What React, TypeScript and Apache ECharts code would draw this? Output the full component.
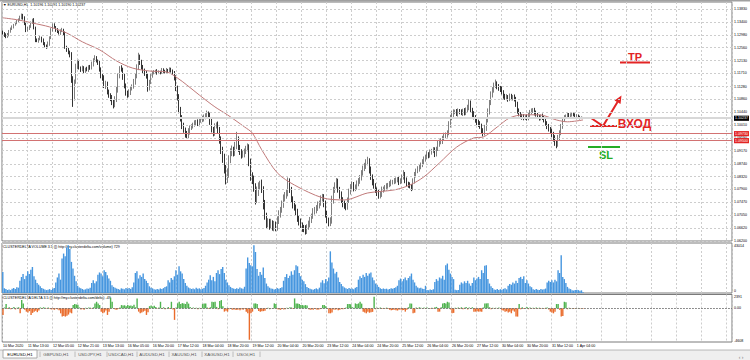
import React, { useEffect, useRef } from 'react';
import * as echarts from 'echarts';

const FONT = 'Liberation Sans';
const TOTAL_SLOTS = 468;

const xLabels = ['10 Mar 2020', '11 Mar 13:00', '12 Mar 05:00', '12 Mar 21:00', '13 Mar 13:00', '16 Mar 05:00', '16 Mar 20:00', '17 Mar 12:00', '18 Mar 04:00', '18 Mar 20:00', '19 Mar 12:00', '20 Mar 04:00', '20 Mar 20:00', '23 Mar 12:00', '24 Mar 04:00', '24 Mar 20:00', '25 Mar 12:00', '26 Mar 04:00', '26 Mar 20:00', '27 Mar 12:00', '30 Mar 04:00', '30 Mar 20:00', '31 Mar 12:00', '1 Apr 04:00'];

const priceGrid = [1.1383, 1.134, 1.1298, 1.1256, 1.1213, 1.1171, 1.1128, 1.1086, 1.1044, 1.1001, 1.0959, 1.0917, 1.0874, 1.0832, 1.079, 1.0747, 1.0705, 1.0662, 1.062];
const levelPrices = [1.0973, 1.095];
const bidPrice = 1.10237;

// hourly closes, in 1/10000 of a price unit
const firstOpen = 11308;
const closes = [
  11304, 11298, 11291, 11298, 11311, 11318, 11324, 11331, 11337, 11341,
  11347, 11354, 11364, 11354, 11334, 11314, 11318, 11327, 11337, 11347,
  11321, 11281, 11278, 11285, 11288, 11281, 11268, 11262, 11258, 11268,
  11288, 11314, 11331, 11324, 11314, 11308, 11304, 11311, 11314, 11304,
  11258, 11249, 11239, 11232, 11150, 11091, 11143, 11193, 11209, 11189,
  11183, 11189, 11179, 11186, 11183, 11193, 11189, 11202, 11216, 11222,
  11212, 11206, 11183, 11163, 11156, 11130, 11137, 11110, 11100, 11091,
  11077, 11068, 11084, 11117, 11163, 11189, 11183, 11160, 11130, 11107,
  11100, 11110, 11123, 11127, 11143, 11163, 11189, 11225, 11209, 11193,
  11179, 11170, 11160, 11123, 11143, 11163, 11173, 11176, 11179, 11173,
  11176, 11173, 11183, 11179, 11176, 11183, 11179, 11186, 11179, 11173,
  11156, 11123, 11091, 11051, 11025, 10998, 10985, 10972, 10966, 10979,
  10992, 10998, 11002, 11008, 11012, 11005, 11015, 11018, 11022, 11028,
  11031, 11038, 11035, 11012, 10985, 10975, 10998, 11002, 10985, 10952,
  10920, 10893, 10854, 10821, 10841, 10887, 10913, 10920, 10910, 10933,
  10952, 10926, 10913, 10903, 10906, 10916, 10923, 10929, 10880, 10834,
  10821, 10794, 10755, 10781, 10801, 10808, 10788, 10739, 10702, 10676,
  10683, 10670, 10679, 10666, 10673, 10663, 10686, 10709, 10722, 10739,
  10762, 10768, 10778, 10814, 10788, 10758, 10739, 10729, 10716, 10696,
  10683, 10673, 10663, 10660, 10653, 10666, 10676, 10689, 10702, 10716,
  10722, 10729, 10739, 10745, 10758, 10765, 10742, 10709, 10689, 10679,
  10686, 10755, 10788, 10804, 10814, 10788, 10771, 10755, 10742, 10735,
  10732, 10755, 10781, 10798, 10804, 10794, 10798, 10808, 10818, 10827,
  10844, 10857, 10867, 10877, 10883, 10854, 10831, 10814, 10801, 10788,
  10778, 10768, 10775, 10788, 10791, 10794, 10801, 10804, 10808, 10814,
  10814, 10818, 10821, 10824, 10814, 10818, 10831, 10841, 10821, 10808,
  10804, 10801, 10794, 10818, 10837, 10850, 10857, 10864, 10870, 10880,
  10890, 10897, 10906, 10900, 10913, 10916, 10920, 10906, 10923, 10939,
  10946, 10949, 10959, 10966, 10969, 10975, 11002, 11025, 11038, 11045,
  11045, 11038, 11048, 11045, 11041, 11048, 11041, 11051, 11058, 11074,
  11051, 11038, 11028, 11018, 11012, 11005, 10998, 10985, 10975, 10992,
  11018, 11045, 11074, 11100, 11117, 11130, 11137, 11127, 11123, 11120,
  11110, 11097, 11091, 11094, 11087, 11097, 11091, 11094, 11087, 11071,
  11048, 11038, 11031, 11028, 11025, 11028, 11025, 11035, 11045, 11048,
  11051, 11041, 11035, 11028, 11025, 11031, 11025, 11018, 11008, 10998,
  10989, 10982, 10972, 10959, 10943, 10939, 10959, 10975, 10998, 11018,
  11028, 11031, 11035, 11031, 11035, 11038, 11035, 11031, 11031, 11028, 11025, 11025, 11024,
];

// upper / lower wick lengths in 1/10000
const wickUp = [
  4, 3, 5, 6, 3, 4, 5, 3, 4, 6, 5, 7, 4, 3, 5, 4, 6, 3, 5, 4,
  6, 4, 5, 3, 7, 4, 5, 6, 4, 8, 5, 6, 4, 5, 3, 6, 4, 5, 7, 4,
  5, 4, 6, 7, 9, 12, 8, 10, 6, 7, 5, 8, 6, 4, 7, 5, 6, 8, 5, 9,
  6, 5, 7, 8, 6, 9, 10, 7, 8, 6, 9, 7, 12, 10, 8, 6, 9, 7, 10, 8,
  7, 9, 6, 8, 10, 9, 12, 14, 8, 7, 6, 8, 9, 10, 7, 6, 5, 6, 4, 6,
  5, 4, 6, 5, 4, 6, 3, 5, 4, 5, 6, 9, 8, 12, 10, 9, 11, 8, 10, 12,
  8, 6, 7, 9, 6, 8, 7, 9, 10, 8, 9, 11, 8, 7, 12, 10, 9, 8, 11, 10,
  12, 10, 14, 16, 18, 15, 12, 14, 10, 13, 27, 12, 10, 9, 11, 8, 10, 12, 9, 11,
  12, 14, 16, 18, 12, 10, 14, 12, 16, 11, 12, 10, 14, 9, 13, 11, 15, 12, 10, 14,
  11, 13, 10, 15, 12, 10, 9, 12, 11, 10, 9, 11, 8, 10, 12, 9, 11, 10, 8, 12,
  10, 9, 11, 8, 12, 10, 9, 11, 10, 8, 12, 14, 10, 9, 13, 11, 10, 12, 9, 11,
  10, 8, 11, 9, 12, 10, 8, 11, 9, 10, 9, 11, 10, 12, 14, 9, 11, 8, 10, 9,
  8, 10, 9, 11, 8, 10, 9, 7, 9, 8, 7, 9, 8, 6, 10, 8, 7, 12, 6, 8,
  7, 9, 6, 8, 10, 8, 9, 7, 8, 9, 8, 7, 9, 6, 8, 7, 9, 8, 7, 10,
  8, 9, 7, 10, 8, 9, 12, 10, 9, 8, 7, 9, 8, 6, 8, 7, 9, 8, 10, 12,
  8, 7, 9, 6, 8, 7, 9, 8, 6, 10, 9, 11, 10, 12, 9, 11, 14, 8, 9, 7,
  8, 6, 7, 9, 6, 8, 7, 6, 8, 7, 7, 8, 6, 7, 9, 6, 8, 7, 6, 8,
  6, 7, 8, 6, 7, 5, 8, 6, 7, 6, 7, 6, 8, 7, 9, 8, 10, 9, 7, 8,
  6, 5, 7, 6, 5, 6, 4, 5, 6, 5, 4, 5, 3,
];
const wickDn = [
  5, 7, 4, 3, 5, 6, 4, 5, 3, 4, 4, 3, 5, 6, 4, 7, 5, 4, 6, 3,
  5, 7, 4, 6, 5, 8, 4, 5, 6, 4, 6, 4, 5, 3, 6, 4, 5, 6, 4, 7,
  6, 7, 5, 8, 10, 30, 9, 6, 8, 5, 7, 5, 8, 6, 5, 7, 6, 5, 8, 6,
  5, 7, 6, 8, 9, 7, 10, 8, 9, 11, 10, 12, 8, 7, 9, 8, 6, 10, 8, 9,
  9, 7, 10, 8, 6, 9, 8, 7, 10, 9, 8, 7, 6, 12, 8, 7, 6, 5, 7, 6,
  4, 5, 3, 6, 5, 4, 6, 4, 5, 6, 8, 10, 9, 11, 12, 10, 9, 12, 10, 8,
  9, 7, 8, 6, 9, 7, 8, 6, 7, 9, 8, 7, 9, 10, 8, 11, 9, 8, 10, 12,
  14, 16, 12, 15, 10, 13, 11, 14, 12, 10, 11, 13, 10, 12, 9, 11, 10, 8, 14, 16,
  14, 12, 15, 10, 13, 12, 10, 15, 12, 14, 11, 13, 10, 12, 14, 11, 9, 10, 12, 9,
  10, 12, 9, 11, 10, 13, 12, 9, 11, 13, 12, 10, 13, 11, 12, 10, 9, 11, 10, 9,
  9, 11, 10, 12, 9, 8, 11, 12, 10, 11, 10, 9, 12, 10, 11, 9, 12, 10, 11, 9,
  11, 9, 10, 8, 9, 11, 10, 9, 8, 10, 8, 9, 7, 10, 8, 12, 10, 11, 9, 10,
  10, 9, 8, 10, 9, 7, 8, 9, 7, 8, 8, 7, 9, 8, 10, 7, 8, 9, 11, 8,
  9, 8, 10, 7, 9, 8, 7, 9, 8, 7, 8, 9, 7, 8, 6, 9, 7, 10, 8, 7,
  9, 8, 10, 7, 8, 9, 7, 9, 8, 10, 8, 7, 9, 8, 7, 10, 8, 7, 9, 8,
  9, 10, 8, 9, 11, 10, 9, 12, 11, 8, 10, 8, 9, 7, 8, 9, 7, 8, 9, 10,
  8, 9, 7, 8, 9, 7, 8, 9, 8, 10, 9, 8, 7, 9, 8, 7, 9, 8, 7, 9,
  7, 8, 6, 7, 9, 8, 7, 8, 9, 10, 9, 10, 11, 12, 10, 14, 9, 8, 7, 9,
  6, 7, 5, 6, 5, 6, 5, 6, 5, 4, 5, 4, 3,
];

const volumes = [
  19000, 4200, 3500, 2800, 3100, 2600, 3900, 4500, 3600, 5200,
  4800, 11000, 14500, 17000, 12500, 15500, 19500, 17000, 21000, 23500,
  15000, 12000, 9000, 7500, 6000, 4500, 3800, 3200, 2600, 3000,
  3500, 2800, 3900, 4600, 9500, 14000, 17500, 12000, 31000, 35500,
  33000, 41000, 43014, 39500, 28000, 22000, 15500, 10500, 6500, 5000,
  4200, 3600, 2900, 3300, 4100, 3800, 4800, 9000, 11500, 8800,
  10500, 16500, 18500, 17500, 15000, 20500, 19000, 16000, 13000, 11000,
  7000, 5500, 4800, 4000, 3500, 3000, 4200, 3800, 3300, 4500,
  3900, 4600, 3700, 5200, 9500, 18000, 19500, 13000, 16000, 14500,
  17500, 12500, 11000, 9000, 6000, 4800, 4200, 3400, 3000, 3600,
  3200, 4100, 3700, 4400, 5300, 6000, 11500, 9500, 13500, 12000,
  15000, 20500, 16500, 24000, 19500, 17500, 12500, 9000, 6500, 5000,
  4300, 3600, 4000, 3400, 4700, 3900, 4200, 3300, 3800, 4600,
  6500, 9500, 12000, 16000, 11500, 14500, 10500, 18000, 20500, 17000,
  21500, 23500, 18000, 12000, 9500, 7000, 5500, 4600, 4000, 3600,
  4300, 3700, 4900, 4200, 3800, 5600, 22000, 32000, 27000, 25000,
  24000, 43000, 37000, 21500, 15500, 19000, 16500, 23000, 13500, 8500,
  6000, 4800, 4100, 3800, 3200, 3600, 4400, 3900, 4500, 5200,
  11000, 14500, 17000, 13500, 15500, 19500, 16500, 20500, 25000, 24000,
  18000, 15000, 12000, 10500, 8000, 5500, 4500, 3800, 3300, 3000,
  3600, 4200, 3400, 4800, 9500, 11500, 8800, 12500, 10500, 14000,
  37500, 27500, 22000, 17500, 19000, 14000, 10000, 8000, 6000, 5000,
  4200, 3600, 4500, 3800, 4100, 3300, 4700, 5500, 12000, 15000,
  13500, 16500, 14500, 18000, 15500, 17500, 18500, 14000, 11500, 8500,
  7500, 5500, 4200, 3700, 4100, 3500, 3900, 3200, 3600, 4300,
  3800, 4500, 5200, 6500, 11500, 13000, 10500, 12500, 14000, 11500,
  13500, 15000, 17500, 12000, 9500, 6500, 5000, 4200, 4800, 3900,
  3600, 6500, 2800, 2500, 3100, 2700, 3300, 10000, 12500, 11000,
  14000, 13000, 15500, 12000, 25000, 26500, 21000, 17500, 14500, 12500,
  3000, 2500, 2800, 7500, 9500, 8500, 10500, 9000, 11000, 8500,
  6500, 9000, 14000, 11500, 13000, 14500, 12500, 20500, 18000, 24500,
  25000, 12500, 8500, 6000, 4500, 3200, 2800, 3500, 2600, 3400,
  2900, 3700, 4200, 3300, 6500, 8000, 7500, 9500, 8500, 11000,
  9000, 13500, 14500, 12500, 15000, 9000, 11500, 8500, 6000, 5200,
  3300, 2800, 3500, 3000, 2700, 3600, 3100, 3400, 4000, 9500,
  11000, 10000, 11500, 9500, 12000, 10500, 20500, 18000, 34000, 14500,
  12500, 9000, 5500, 4000, 3500, 2500, 2200, 2800, 3000, 2600, 2100, 2400, 729,
];

const deltas = [
  -900, 120, 590, -80, 150, -120, 60, 200, -150, 90,
  150, -680, 1130, 680, -200, -450, -560, -380, -900, -620,
  -450, -330, -520, -280, 120, -90, 150, 80, -60, 110,
  -60, -150, -120, -200, -90, -140, -250, -680, -1130, -1050,
  -1130, -1000, -850, -560, -680, 450, 590, 520, 480, 120,
  -150, -100, -200, 80, -60, 120, 90, -40, 150, 680,
  900, 680, 450, -450, -680, -560, -300, -900, -450, 1450,
  900, -60, -150, -200, -90, 100, 450, 380, 420, 300,
  450, 350, 400, 300, 480, 150, 1360, -450, -680, -560,
  -450, -340, -900, -520, 300, 400, 250, 350, 180, -50,
  100, 900, -80, 150, -120, 60, 180, -90, 900, -150,
  -1580, 120, 680, 900, 590, 720, 680, 600, 900, 650,
  200, -80, 120, -60, 90, -120, 80, -50, 590, 680,
  650, 120, -90, 150, 900, 850, 900, 200, -120, 1000,
  1130, 300, -450, -340, -450, -120, -90, -200, -150, -180,
  -220, -150, -260, -120, -200, -90, -450, -680, -4300, -680,
  -450, 680, 680, 600, -350, -450, -400, -380, -320, -90,
  80, -120, 60, -50, 680, 600, -120, -150, -200, -90,
  -150, -120, 90, -60, 150, 120, -100, 1360, 680, 680,
  600, 450, 450, 400, 450, 380, -120, -200, -150, -180,
  -100, -150, -200, -120, -90, 450, 450, 300, -60, -680,
  -680, -560, -150, -200, -120, -250, -180, -100, -140, -90,
  120, 590, 600, 550, 150, 80, 680, 600, 680, 900,
  650, -450, -560, -680, -450, -600, -520, -480, 1580, -120,
  80, -60, 120, -90, 60, -50, 100, -80, -200, -250,
  -220, -180, -250, -300, -200, -150, -260, -220, -450, -200,
  150, 680, 650, -680, -600, 120, -90, 150, 80, -60,
  100, -80, 120, 60, -50, 90, -70, 150, 200, -450,
  -450, 150, 680, 750, 680, 900, 800, -150, -680, -620,
  90, -60, 120, -80, 150, -120, 90, 200, -150, 120,
  -100, 150, -450, -450, -400, -450, -420, -450, 100, 680,
  680, 700, 150, -120, 80, -60, 90, -50, 120, -80,
  -250, -300, -450, -400, -560, -450, -680, -300, -450, -1130,
  -1130, 590, -120, 150, -90, 60, 180, -120, 100, -80,
  80, -60, 120, -50, 90, -70, 60, -40, 80, 120,
  -150, -450, -560, -680, -450, 590, 590, -200, -1130, -1050,
  900, 850, -120, 90, -60, 50, -80, 40, -30, 60, -40, 30, -49,
];

// moving average: [bar index, value in 1/10000]
const maPoints = [
  [0, 11354], [10, 11347], [19, 11337], [30, 11324], [41, 11304], [51, 11275], [62, 11249],
  [73, 11212], [83, 11189], [94, 11179], [105, 11176], [112, 11156], [118, 11133], [126, 11100],
  [136, 11061], [144, 11035], [155, 10995], [160, 10975], [166, 10920], [176, 10844], [187, 10804],
  [205, 10762], [219, 10755], [234, 10778], [251, 10788], [261, 10804], [270, 10831], [280, 10877],
  [291, 10929], [302, 10959], [308, 10962], [317, 10995], [325, 11025], [334, 11035], [344, 11035],
  [355, 11018], [362, 11012], [372, 11018],
];

const tabs = ['EURUSD,H1', 'GBPUSD,H1', 'USDJPY,H1', 'USDCAD,H1', 'AUDUSD,H1', 'XAUUSD,H1', 'XAGUSD,H1', 'USOil,H1'];
const tabX = [20, 56, 90, 121, 152, 184, 217, 246];
const tabSeps = [40, 75, 107, 137, 169, 202, 233, 260];

export default function App() {
  const ref = useRef<HTMLDivElement>(null);

  useEffect(() => {
    if (!ref.current) return;
    const chart = echarts.init(ref.current, undefined, { renderer: 'svg' });
    const cats = Array.from({ length: TOTAL_SLOTS }, (_, i) => String(i));
    const S = 10000;

    const candles = closes.map((c, i) => {
      const o = i === 0 ? firstOpen : closes[i - 1];
      const hi = Math.max(o, c) + wickUp[i];
      const lo = Math.min(o, c) - wickDn[i];
      return [o / S, c / S, lo / S, hi / S];
    });

    const splitLine = {
      show: true,
      interval: 15,
      lineStyle: { color: '#cdcdcd', type: [2, 2], width: 1 },
    };
    const mkX = (gi: number, showLabel: boolean) => ({
      type: 'category',
      gridIndex: gi,
      data: cats,
      boundaryGap: true,
      axisLine: { show: false },
      axisTick: { show: false },
      axisLabel: showLabel
        ? {
            show: true,
            interval: 15,
            formatter: (_v: string, i: number) => xLabels[Math.round(i / 16)] ?? '',
            align: 'left',
            fontSize: 3.6,
            fontFamily: FONT,
            margin: 1.5,
            color: '#000',
          }
        : { show: false },
      splitLine,
    });
    const mkY = (gi: number, min: number, max: number) => ({
      type: 'value',
      gridIndex: gi,
      min,
      max,
      position: 'right',
      axisLine: { show: false },
      axisTick: { show: false },
      axisLabel: { show: false },
      splitLine: { show: false },
    });

    const smallLabel = { fontSize: 3.6, fontFamily: FONT, color: '#000', position: 'end', distance: 2 };

    const txt = (x: number, y: number, text: string, extra: any = {}) => ({
      type: 'text',
      x,
      y,
      silent: true,
      style: { text, fontSize: 3.6, fontFamily: FONT, fill: '#000', verticalAlign: 'middle', align: 'left', ...extra },
    });
    const RED = '#e22424';
    const GREEN = '#25ad25';

    const graphic: any[] = [
      { type: 'rect', shape: { x: 0, y: 0, width: 750, height: 1.5 }, style: { fill: '#a0a0a0' }, silent: true },
      txt(3, 5, '▼ EURUSD,H1  1.10196 1.10291 1.10190 1.10237'),
      txt(3, 246.5, 'CLUSTERDELTA VOLUME 3.5 ([) http://my.clusterdelta.com/volume) 729'),
      txt(3, 297.5, 'CLUSTERDELTA DELTA 3.5 ([) http://my.clusterdelta.com/delta) -49'),
      txt(734, 245.5, '43014'),
      txt(734, 290.5, '0'),
      txt(734, 296.5, '2391'),
      txt(734, 340.5, '-4608'),
      // tab strip
      { type: 'rect', shape: { x: 0, y: 350, width: 750, height: 10 }, style: { fill: '#efefef' }, silent: true },
      { type: 'line', shape: { x1: 0, y1: 350, x2: 750, y2: 350 }, style: { stroke: '#a8a8a8', lineWidth: 0.8 }, silent: true },
      { type: 'rect', shape: { x: 3, y: 350, width: 34, height: 8 }, style: { fill: '#ffffff', stroke: '#9a9a9a', lineWidth: 0.8 }, silent: true },
      ...tabs.map((t, i) => txt(tabX[i], 354, t, { align: 'center', fontSize: 4.4, fill: i === 0 ? '#000' : '#555' })),
      ...tabSeps.map((x) => ({ type: 'line', shape: { x1: x, y1: 351.5, x2: x, y2: 357 }, style: { stroke: '#b0b0b0', lineWidth: 0.8 }, silent: true })),
      txt(741, 357, '‹ ›', { align: 'center', fontSize: 5, fill: '#777' }),
      // hand-drawn trade annotations
      { type: 'line', shape: { x1: 620, y1: 62.5, x2: 650, y2: 62.5 }, style: { stroke: RED, lineWidth: 2 }, silent: true },
      txt(635, 56.5, 'TP', { align: 'center', fontSize: 11, fontWeight: 'bold', fill: RED, fontFamily: 'Liberation Sans' }),
      { type: 'line', shape: { x1: 590, y1: 126, x2: 617, y2: 126 }, style: { stroke: RED, lineWidth: 2 }, silent: true },
      { type: 'polyline', shape: { points: [[591, 118], [603, 126], [617.5, 102]] }, style: { stroke: RED, lineWidth: 2, fill: null }, silent: true },
      { type: 'polygon', shape: { points: [[621.5, 95.5], [614.5, 100.5], [620.5, 104]] }, style: { fill: RED }, silent: true },
      txt(634.5, 124, 'ВХОД', { align: 'center', fontSize: 12, fontWeight: 'bold', fill: RED, fontFamily: 'Liberation Sans' }),
      { type: 'line', shape: { x1: 588, y1: 147, x2: 620, y2: 147 }, style: { stroke: GREEN, lineWidth: 2 }, silent: true },
      txt(606, 154.5, 'SL', { align: 'center', fontSize: 11, fontWeight: 'bold', fill: GREEN, fontFamily: 'Liberation Sans' }),
    ];

    const option: any = {
      animation: false,
      backgroundColor: '#ffffff',
      textStyle: { fontFamily: FONT },
      grid: [
        { left: 2, top: 2, width: 730, height: 239, show: true, borderColor: '#7a7a7a', borderWidth: 1, backgroundColor: 'transparent' },
        { left: 2, top: 243, width: 730, height: 50, show: true, borderColor: '#7a7a7a', borderWidth: 1, backgroundColor: 'transparent' },
        { left: 2, top: 294.5, width: 730, height: 47.5, show: true, borderColor: '#7a7a7a', borderWidth: 1, backgroundColor: 'transparent' },
      ],
      xAxis: [mkX(0, false), mkX(1, false), mkX(2, true)],
      yAxis: [mkY(0, 1.062, 1.1406), mkY(1, 0, 45000), mkY(2, -4608, 1897)],
      graphic,
      series: [
        {
          type: 'line',
          name: 'grid',
          xAxisIndex: 0,
          yAxisIndex: 0,
          data: [[0, closes[0] / S]],
          showSymbol: false,
          lineStyle: { width: 0 },
          z: 1,
          silent: true,
          markLine: {
            silent: true,
            precision: 6,
            symbol: ['none', 'none'],
            animation: false,
            lineStyle: { color: '#cdcdcd', type: [2, 2], width: 1 },
            label: { ...smallLabel, formatter: (p: any) => Number(p.value).toFixed(5) },
            data: priceGrid.map((v) => ({ yAxis: v })),
          },
        },
        {
          type: 'candlestick',
          xAxisIndex: 0,
          yAxisIndex: 0,
          data: candles,
          barWidth: 1.1,
          z: 3,
          itemStyle: {
            color: '#8c8c8c',
            color0: '#000000',
            borderColor: '#5e5e5e',
            borderColor0: '#000000',
            borderWidth: 0.8,
          },
        },
        {
          type: 'line',
          name: 'MA',
          xAxisIndex: 0,
          yAxisIndex: 0,
          data: maPoints.map(([i, v]) => [i, v / S]),
          showSymbol: false,
          smooth: 0.3,
          z: 4,
          lineStyle: { color: '#c07a7a', width: 1 },
          markLine: {
            silent: true,
            precision: 6,
            symbol: ['none', 'none'],
            animation: false,
            data: [
              {
                yAxis: bidPrice,
                lineStyle: { color: '#d8d8d8', width: 2, type: 'solid' },
                label: { ...smallLabel, formatter: bidPrice.toFixed(5), color: '#fff', backgroundColor: '#000', padding: [0.6, 1] },
              },
              ...levelPrices.map((v) => ({
                yAxis: v,
                lineStyle: { color: '#d27272', width: 1, type: 'solid' },
                label: { ...smallLabel, formatter: v.toFixed(5), color: '#fff', backgroundColor: RED, padding: [0.6, 1] },
              })),
            ],
          },
        },
        {
          type: 'bar',
          xAxisIndex: 1,
          yAxisIndex: 1,
          data: volumes,
          barCategoryGap: '10%',
          itemStyle: { color: '#4696df' },
        },
        {
          type: 'bar',
          xAxisIndex: 2,
          yAxisIndex: 2,
          data: deltas,
          barCategoryGap: '10%',
          itemStyle: { color: (p: any) => (p.value >= 0 ? '#4fb34f' : '#ea6c2c') },
          markLine: {
            silent: true,
            precision: 2,
            symbol: ['none', 'none'],
            animation: false,
            lineStyle: { color: '#6a6a6a', type: [1.5, 1.5], width: 1 },
            label: { ...smallLabel, formatter: '0.00' },
            data: [{ yAxis: 0 }],
          },
        },
      ],
    };

    chart.setOption(option);
    return () => chart.dispose();
  }, []);

  return (
    <div
      ref={ref}
      style={{ position: 'fixed', left: 0, top: 0, width: 750, height: 360, background: '#fff' }}
    />
  );
}
